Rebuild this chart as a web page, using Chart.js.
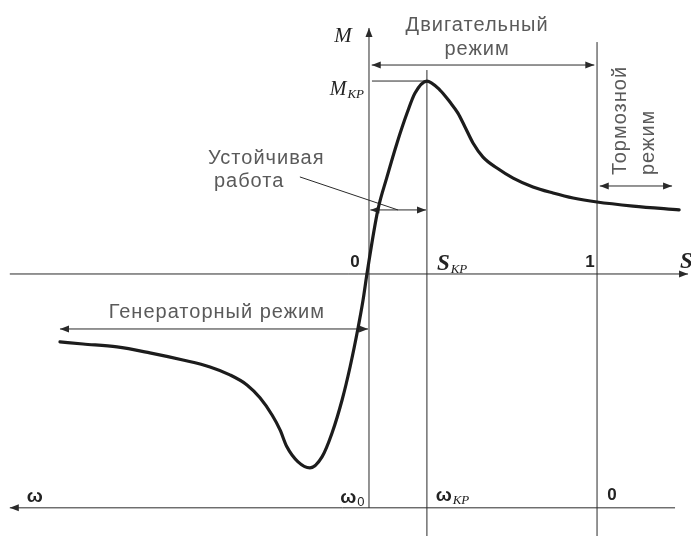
<!DOCTYPE html>
<html lang="ru">
<head>
<meta charset="utf-8">
<title>Механическая характеристика асинхронного двигателя</title>
<script src="https://cdn.jsdelivr.net/npm/chart.js@4.4.0/dist/chart.umd.min.js"></script>
<style>
    body { margin: 0; background: #fff; }
    #wrap { width: 691px; height: 536px; }
</style>
</head>
<body>
<div id="wrap"><canvas id="msChart" width="691" height="536"></canvas></div>
<script>
// Скольжение s и момент M (в долях M_кр)
const slipValues = [
    -1.355, -1.254, -1.105, -0.961, -0.816, -0.697, -0.610, -0.535, -0.478, -0.425,
    -0.390, -0.360, -0.311, -0.259, -0.206, -0.162, -0.118, -0.083, -0.048, -0.026,
    -0.009, 0.039, 0.079, 0.123, 0.167, 0.202, 0.254, 0.311, 0.355, 0.390,
    0.421, 0.456, 0.500, 0.561, 0.632, 0.719, 0.807, 0.895, 1.000, 1.158,
    1.360
];
const torqueValues = [
    -0.352, -0.363, -0.378, -0.409, -0.446, -0.482, -0.523, -0.575, -0.642, -0.731,
    -0.808, -0.896, -0.974, -1.005, -0.948, -0.824, -0.653, -0.482, -0.280, -0.135,
    0.000, 0.332, 0.503, 0.679, 0.834, 0.938, 1.000, 0.953, 0.891, 0.834,
    0.762, 0.679, 0.606, 0.549, 0.497, 0.451, 0.420, 0.394, 0.373, 0.352,
    0.332
];

// Характерные точки
const sKr = 0.254;         // критическое скольжение
const mKr = 1.0;           // критический момент
const omegaLevel = -1.212; // уровень оси ω

// Пределы осей (чтобы рисунок занял всё полотно)
const xMin = -1.618, xMax = 1.412;
const yMin = -1.358, yMax = 1.420;

const INK = '#2a2a2a';
const TEXT = '#5a5a5a';
const SANS = '"Liberation Sans", Arial, sans-serif';
const SERIF = '"Liberation Serif", "Times New Roman", serif';

function arrowHead(ctx, x, y, dir) {
    // dir: 'left' | 'right' | 'up'
    const len = 9, half = 3.5;
    ctx.beginPath();
    if (dir === 'right') {
        ctx.moveTo(x, y); ctx.lineTo(x - len, y - half); ctx.lineTo(x - len, y + half);
    } else if (dir === 'left') {
        ctx.moveTo(x, y); ctx.lineTo(x + len, y - half); ctx.lineTo(x + len, y + half);
    } else {
        ctx.moveTo(x, y); ctx.lineTo(x - half, y + len); ctx.lineTo(x + half, y + len);
    }
    ctx.closePath();
    ctx.fill();
}

function line(ctx, x1, y1, x2, y2) {
    ctx.beginPath();
    ctx.moveTo(x1, y1);
    ctx.lineTo(x2, y2);
    ctx.stroke();
}

// Подпись с индексом (M_кр, S_кр, ω0 ...)
function subLabel(ctx, main, sub, x, y, mainFont, subFont, align) {
    ctx.font = mainFont;
    const w1 = ctx.measureText(main).width;
    ctx.font = subFont;
    const w2 = ctx.measureText(sub).width;
    let left = x;
    if (align === 'center') left = x - (w1 + w2) / 2;
    if (align === 'right') left = x - (w1 + w2);
    ctx.textAlign = 'left';
    ctx.textBaseline = 'alphabetic';
    ctx.font = mainFont;
    ctx.fillText(main, left, y);
    ctx.font = subFont;
    ctx.fillText(sub, left + w1 + 1, y + 3);
}

const guidesPlugin = {
    id: 'guides',
    beforeDatasetsDraw(chart) {
        const ctx = chart.ctx;
        const px = v => chart.scales.x.getPixelForValue(v);
        const py = v => chart.scales.y.getPixelForValue(v);
        ctx.save();
        ctx.strokeStyle = INK;
        ctx.fillStyle = INK;
        ctx.lineWidth = 1;

        // ось S
        line(ctx, px(-1.575), py(0), px(1.399), py(0));
        arrowHead(ctx, px(1.399), py(0), 'right');
        // ось M
        line(ctx, px(0), py(omegaLevel), px(0), py(1.275));
        arrowHead(ctx, px(0), py(1.275), 'up');
        // вертикаль S_кр и S = 1
        line(ctx, px(sKr), py(1.057), px(sKr), py(yMin));
        line(ctx, px(1), py(1.202), px(1), py(yMin));
        // ось ω
        line(ctx, px(-1.575), py(omegaLevel), px(1.342), py(omegaLevel));
        arrowHead(ctx, px(-1.575), py(omegaLevel), 'left');
        // уровень M_кр
        line(ctx, px(0.013), py(mKr), px(sKr), py(mKr));

        // двусторонние стрелки режимов
        const spans = [
            [0.012, 0.988, 1.083],
            [1.012, 1.329, 0.456],
            [0.006, sKr - 0.004, 0.332],
            [-1.355, -0.004, -0.285]
        ];
        spans.forEach(function(sp) {
            line(ctx, px(sp[0]), py(sp[2]), px(sp[1]), py(sp[2]));
            arrowHead(ctx, px(sp[0]), py(sp[2]), 'left');
            arrowHead(ctx, px(sp[1]), py(sp[2]), 'right');
        });
        // выноска "Устойчивая работа"
        line(ctx, px(-0.303), py(0.503), px(0.127), py(0.332));
        ctx.restore();
    },
    afterDatasetsDraw(chart) {
        const ctx = chart.ctx;
        const px = v => chart.scales.x.getPixelForValue(v);
        const py = v => chart.scales.y.getPixelForValue(v);
        ctx.save();

        // русские подписи
        ctx.fillStyle = TEXT;
        ctx.font = '20px ' + SANS;
        ctx.letterSpacing = '1px';
        ctx.textBaseline = 'middle';
        ctx.textAlign = 'center';
        ctx.fillText('Двигательный', px(0.474), py(1.290));
        ctx.fillText('режим', px(0.474), py(1.161));
        ctx.fillText('Генераторный режим', px(-0.667), py(-0.197));
        ctx.textAlign = 'left';
        ctx.fillText('Устойчивая', px(-0.706), py(0.601));
        ctx.fillText('работа', px(-0.680), py(0.477));

        // вертикальная подпись "Тормозной режим"
        [['Тормозной', 1.101], ['режим', 1.224]].forEach(function(t) {
            ctx.save();
            ctx.translate(px(t[1]), py(0.513));
            ctx.rotate(-Math.PI / 2);
            ctx.textAlign = 'left';
            ctx.textBaseline = 'middle';
            ctx.fillText(t[0], 0, 0);
            ctx.restore();
        });
        ctx.letterSpacing = '0px';

        // обозначения осей
        ctx.fillStyle = '#222';
        ctx.textAlign = 'center';
        ctx.textBaseline = 'middle';
        ctx.font = 'italic 21px ' + SERIF;
        ctx.fillText('M', px(-0.114), py(1.233));
        ctx.font = 'bold italic 23px ' + SERIF;
        ctx.textAlign = 'left';
        ctx.fillText('S', px(1.364), py(0.062));

        subLabel(ctx, 'M', 'КР', px(-0.026), py(0.964) + 7,
            'italic 20px ' + SERIF, 'italic 13px ' + SERIF, 'right');
        subLabel(ctx, 'S', 'КР', px(0.298), py(0.062) + 8,
            'bold italic 23px ' + SERIF, 'italic 13px ' + SERIF, 'left');

        ctx.font = 'bold 17px ' + SANS;
        ctx.textAlign = 'center';
        ctx.textBaseline = 'middle';
        ctx.fillText('0', px(-0.061), py(0.062));
        ctx.fillText('1', px(0.969), py(0.062));
        ctx.fillText('0', px(1.066), py(-1.145));
        ctx.font = 'bold 19px ' + SANS;
        ctx.fillText('ω', px(-1.465), py(-1.155));

        subLabel(ctx, 'ω', '0', px(-0.075), py(-1.155) + 6,
            'bold 19px ' + SANS, '13px ' + SANS, 'center');
        subLabel(ctx, 'ω', 'КР', px(0.364), py(-1.145) + 6,
            'bold 19px ' + SANS, 'italic 13px ' + SERIF, 'center');

        ctx.restore();
    }
};

const curvePoints = slipValues.map(function(s, i) {
    return { x: s, y: torqueValues[i] };
});

new Chart(document.getElementById('msChart'), {
    type: 'scatter',
    data: {
        datasets: [{
            data: curvePoints,
            showLine: true,
            borderColor: '#1c1c1c',
            borderWidth: 3.2,
            borderCapStyle: 'round',
            borderJoinStyle: 'round',
            pointRadius: 0,
            cubicInterpolationMode: 'monotone',
            fill: false
        }]
    },
    options: {
        responsive: false,
        animation: false,
        events: [],
        layout: { padding: 0 },
        plugins: {
            legend: { display: false },
            tooltip: { enabled: false }
        },
        scales: {
            x: { type: 'linear', min: xMin, max: xMax, display: false },
            y: { type: 'linear', min: yMin, max: yMax, display: false }
        }
    },
    plugins: [guidesPlugin]
});
</script>
</body>
</html>
